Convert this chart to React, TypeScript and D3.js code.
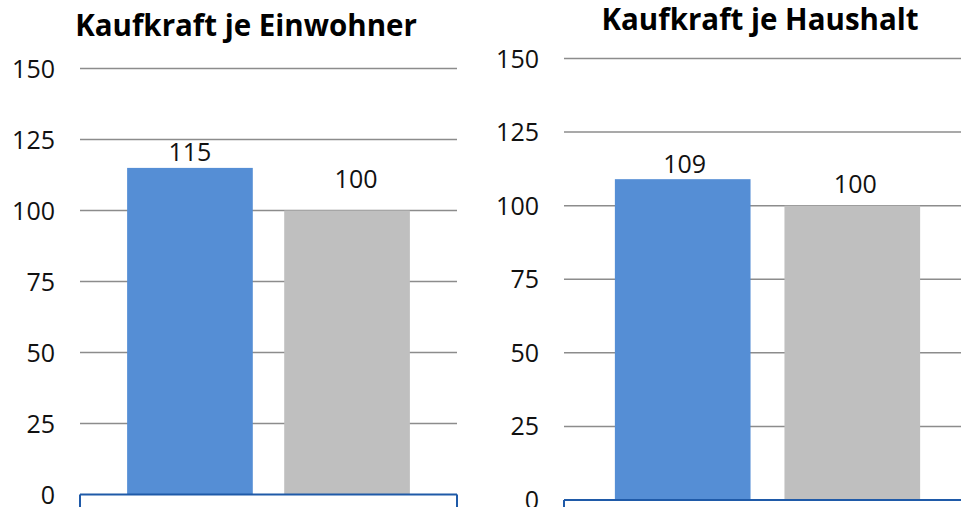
import React from "react";
import * as d3 from "d3";

const seriesNames = ["Standort", "Deutschland"];
const einwohnerValues = [115, 100];
const haushaltValues = [109, 100];
const tickValues = [0, 25, 50, 75, 100, 125, 150];
const titles = ["Kaufkraft je Einwohner", "Kaufkraft je Haushalt"];
const colors = ["#558ED5", "#BFBFBF"];

const W = 961;
const H = 507;
const FONT = "'Open Sans', 'Noto Sans', sans-serif";

type Panel = {
  title: string;
  values: number[];
  x0: number;
  x1: number;
  yZero: number;
  yTop: number;
  titleX: number;
  titleY: number;
  labelDy: number[];
  labelDx: number[];
};

const panels: Panel[] = [
  {
    title: titles[0],
    values: einwohnerValues,
    x0: 80,
    x1: 457,
    yZero: 494.5,
    yTop: 68.5,
    titleX: 246,
    titleY: 36,
    labelDy: [7, 23],
    labelDx: [0, 9],
  },
  {
    title: titles[1],
    values: haushaltValues,
    x0: 564,
    x1: 971,
    yZero: 500,
    yTop: 58.5,
    titleX: 760,
    titleY: 30,
    labelDy: [6, 13],
    labelDx: [2, 3],
  },
];

function ChartPanel({ p }: { p: Panel }) {
  const y = d3.scaleLinear().domain([0, 150]).range([p.yZero, p.yTop]);
  const x = d3
    .scaleBand<string>()
    .domain(seriesNames)
    .range([p.x0, p.x1])
    .paddingInner(0.2)
    .paddingOuter(0.3);
  return (
    <g>
      <text
        x={p.titleX}
        y={p.titleY}
        textAnchor="middle"
        fontFamily={FONT}
        fontWeight={700}
        fontSize={29.5}
        fill="#000"
      >
        {p.title}
      </text>
      {tickValues.map((t) => (
        <g key={t}>
          {t !== 0 && (
            <line
              x1={p.x0}
              x2={p.x1}
              y1={y(t)}
              y2={y(t)}
              stroke="#8c8c8c"
              strokeWidth={1.5}
            />
          )}
          <text
            x={p.x0 - 25}
            y={y(t)}
            dy="0.36em"
            textAnchor="end"
            fontFamily={FONT}
            fontSize={25}
            fill="#111"
          >
            {t}
          </text>
        </g>
      ))}
      {seriesNames.map((s, i) => (
        <rect
          key={s}
          x={x(s)}
          y={y(p.values[i])}
          width={x.bandwidth()}
          height={p.yZero - y(p.values[i])}
          fill={colors[i]}
        />
      ))}
      {seriesNames.map((s, i) => (
        <text
          key={s}
          x={(x(s) as number) + x.bandwidth() / 2 + p.labelDx[i]}
          y={y(p.values[i]) - p.labelDy[i]}
          textAnchor="middle"
          fontFamily={FONT}
          fontSize={25}
          fill="#111"
        >
          {p.values[i]}
        </text>
      ))}
      <line
        x1={p.x0}
        x2={p.x1}
        y1={p.yZero}
        y2={p.yZero}
        stroke="#1F5AA8"
        strokeWidth={2}
      />
      <line x1={p.x0} x2={p.x0} y1={p.yZero} y2={H} stroke="#1F5AA8" strokeWidth={2} />
      <line x1={p.x1} x2={p.x1} y1={p.yZero} y2={H} stroke="#1F5AA8" strokeWidth={2} />
    </g>
  );
}

export default function App() {
  return (
    <svg
      width={W}
      height={H}
      style={{ position: "absolute", left: 0, top: 0, background: "#fff" }}
    >
      <rect width={W} height={H} fill="#fff" />
      {panels.map((p) => (
        <ChartPanel key={p.title} p={p} />
      ))}
    </svg>
  );
}
